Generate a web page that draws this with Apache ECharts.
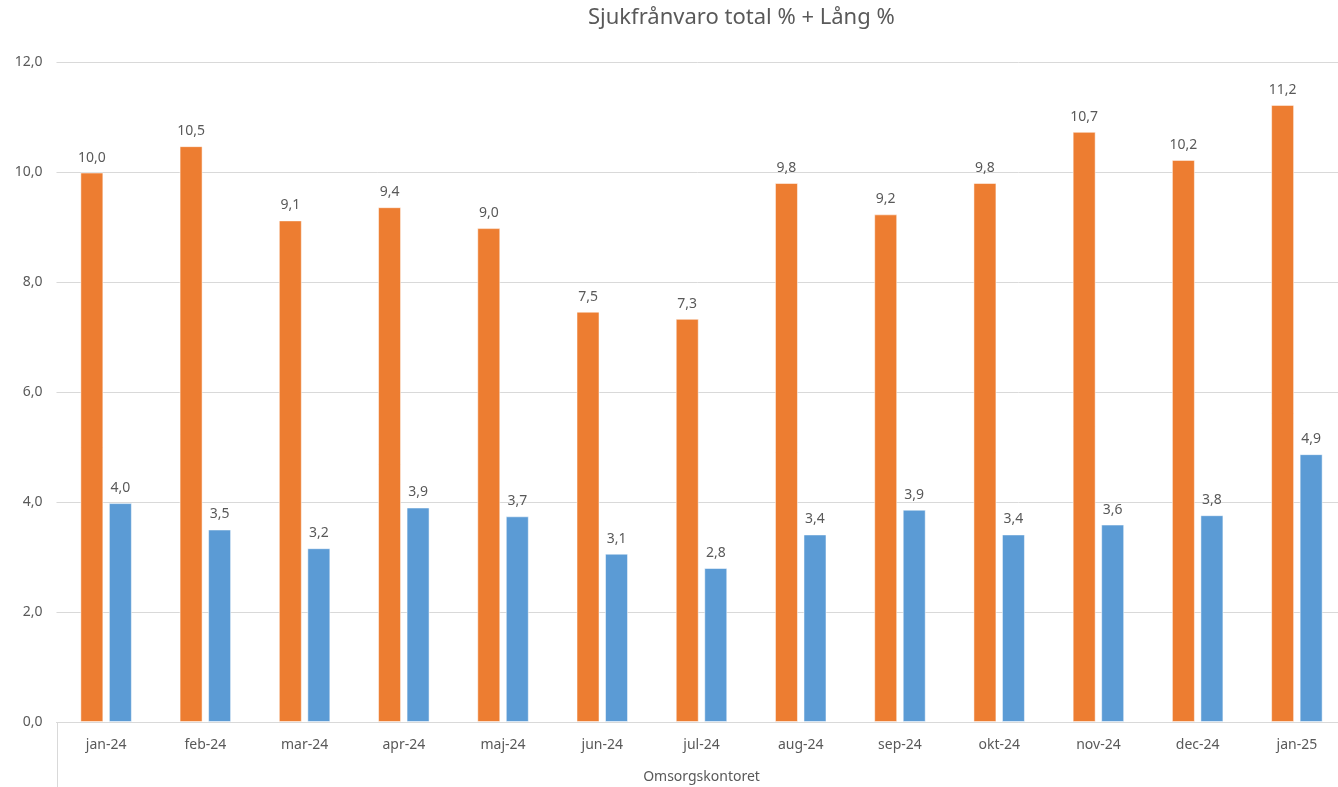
<!DOCTYPE html>
<html>
<head>
<meta charset="utf-8">
<script src="https://cdn.jsdelivr.net/npm/echarts@6/dist/echarts.min.js"></script>
<style>html,body{margin:0;padding:0;background:#fff;}#c{width:1338px;height:787px;}</style>
</head>
<body>
<div id="c"></div>
<script>
var categories = ['jan-24','feb-24','mar-24','apr-24','maj-24','jun-24','jul-24','aug-24','sep-24','okt-24','nov-24','dec-24','jan-25'];
var totalValues = [9.99, 10.47, 9.12, 9.36, 8.98, 7.46, 7.33, 9.80, 9.23, 9.80, 10.73, 10.22, 11.22];
var langValues = [3.98, 3.50, 3.16, 3.90, 3.74, 3.06, 2.80, 3.41, 3.86, 3.41, 3.59, 3.76, 4.87];
var yTicks = {min: 0, max: 12, interval: 2};
var titleText = 'Sjukfrånvaro total % + Lång %';
var groupLabel = 'Omsorgskontoret';

function fmt(v){ return Number(v).toFixed(1).replace('.', ','); }
var FONT = '"Noto Sans", sans-serif';
var chart = echarts.init(document.getElementById('c'), null, {renderer: 'canvas'});
var labelStyle = {show: true, position: 'top', distance: 8, color: '#595959', fontSize: 14, fontFamily: FONT,
  formatter: function(p){ return fmt(p.value); }};
chart.setOption({
  animation: false,
  backgroundColor: '#fff',
  title: {text: titleText, left: 583, top: 2,
    textStyle: {color: '#595959', fontSize: 22, fontWeight: 'normal', fontFamily: FONT}},
  grid: {left: 56.5, top: 62, width: 1290, height: 660, containLabel: false, outerBoundsMode: 'none'},
  xAxis: {type: 'category', data: categories,
    axisLine: {lineStyle: {color: '#d9d9d9', width: 1}},
    axisTick: {show: false},
    axisLabel: {color: '#595959', fontSize: 14, fontFamily: FONT, margin: 16},
    name: groupLabel, nameLocation: 'middle', nameGap: 48,
    nameTextStyle: {color: '#595959', fontSize: 14, fontFamily: FONT}
  },
  yAxis: {type: 'value', min: yTicks.min, max: yTicks.max, interval: yTicks.interval,
    axisLine: {show: false}, axisTick: {show: false},
    axisLabel: {color: '#595959', fontSize: 14, fontFamily: FONT, margin: 14, formatter: fmt},
    splitLine: {lineStyle: {color: '#d9d9d9', width: 1}}
  },
  series: [
    {type: 'bar', name: 'Total %', data: totalValues, barWidth: 23, barGap: '24%',
      itemStyle: {color: '#ED7D31', borderColor: 'rgba(255,255,255,0.5)', borderWidth: 1},
      label: labelStyle},
    {type: 'bar', name: 'Lång %', data: langValues, barWidth: 23, barGap: '24%',
      itemStyle: {color: '#5B9BD5', borderColor: 'rgba(255,255,255,0.5)', borderWidth: 1},
      label: labelStyle}
  ],
  graphic: [{type: 'line', shape: {x1: 57.5, y1: 722, x2: 57.5, y2: 787},
    style: {stroke: '#d9d9d9', lineWidth: 1}, silent: true}]
});
</script>
</body>
</html>
